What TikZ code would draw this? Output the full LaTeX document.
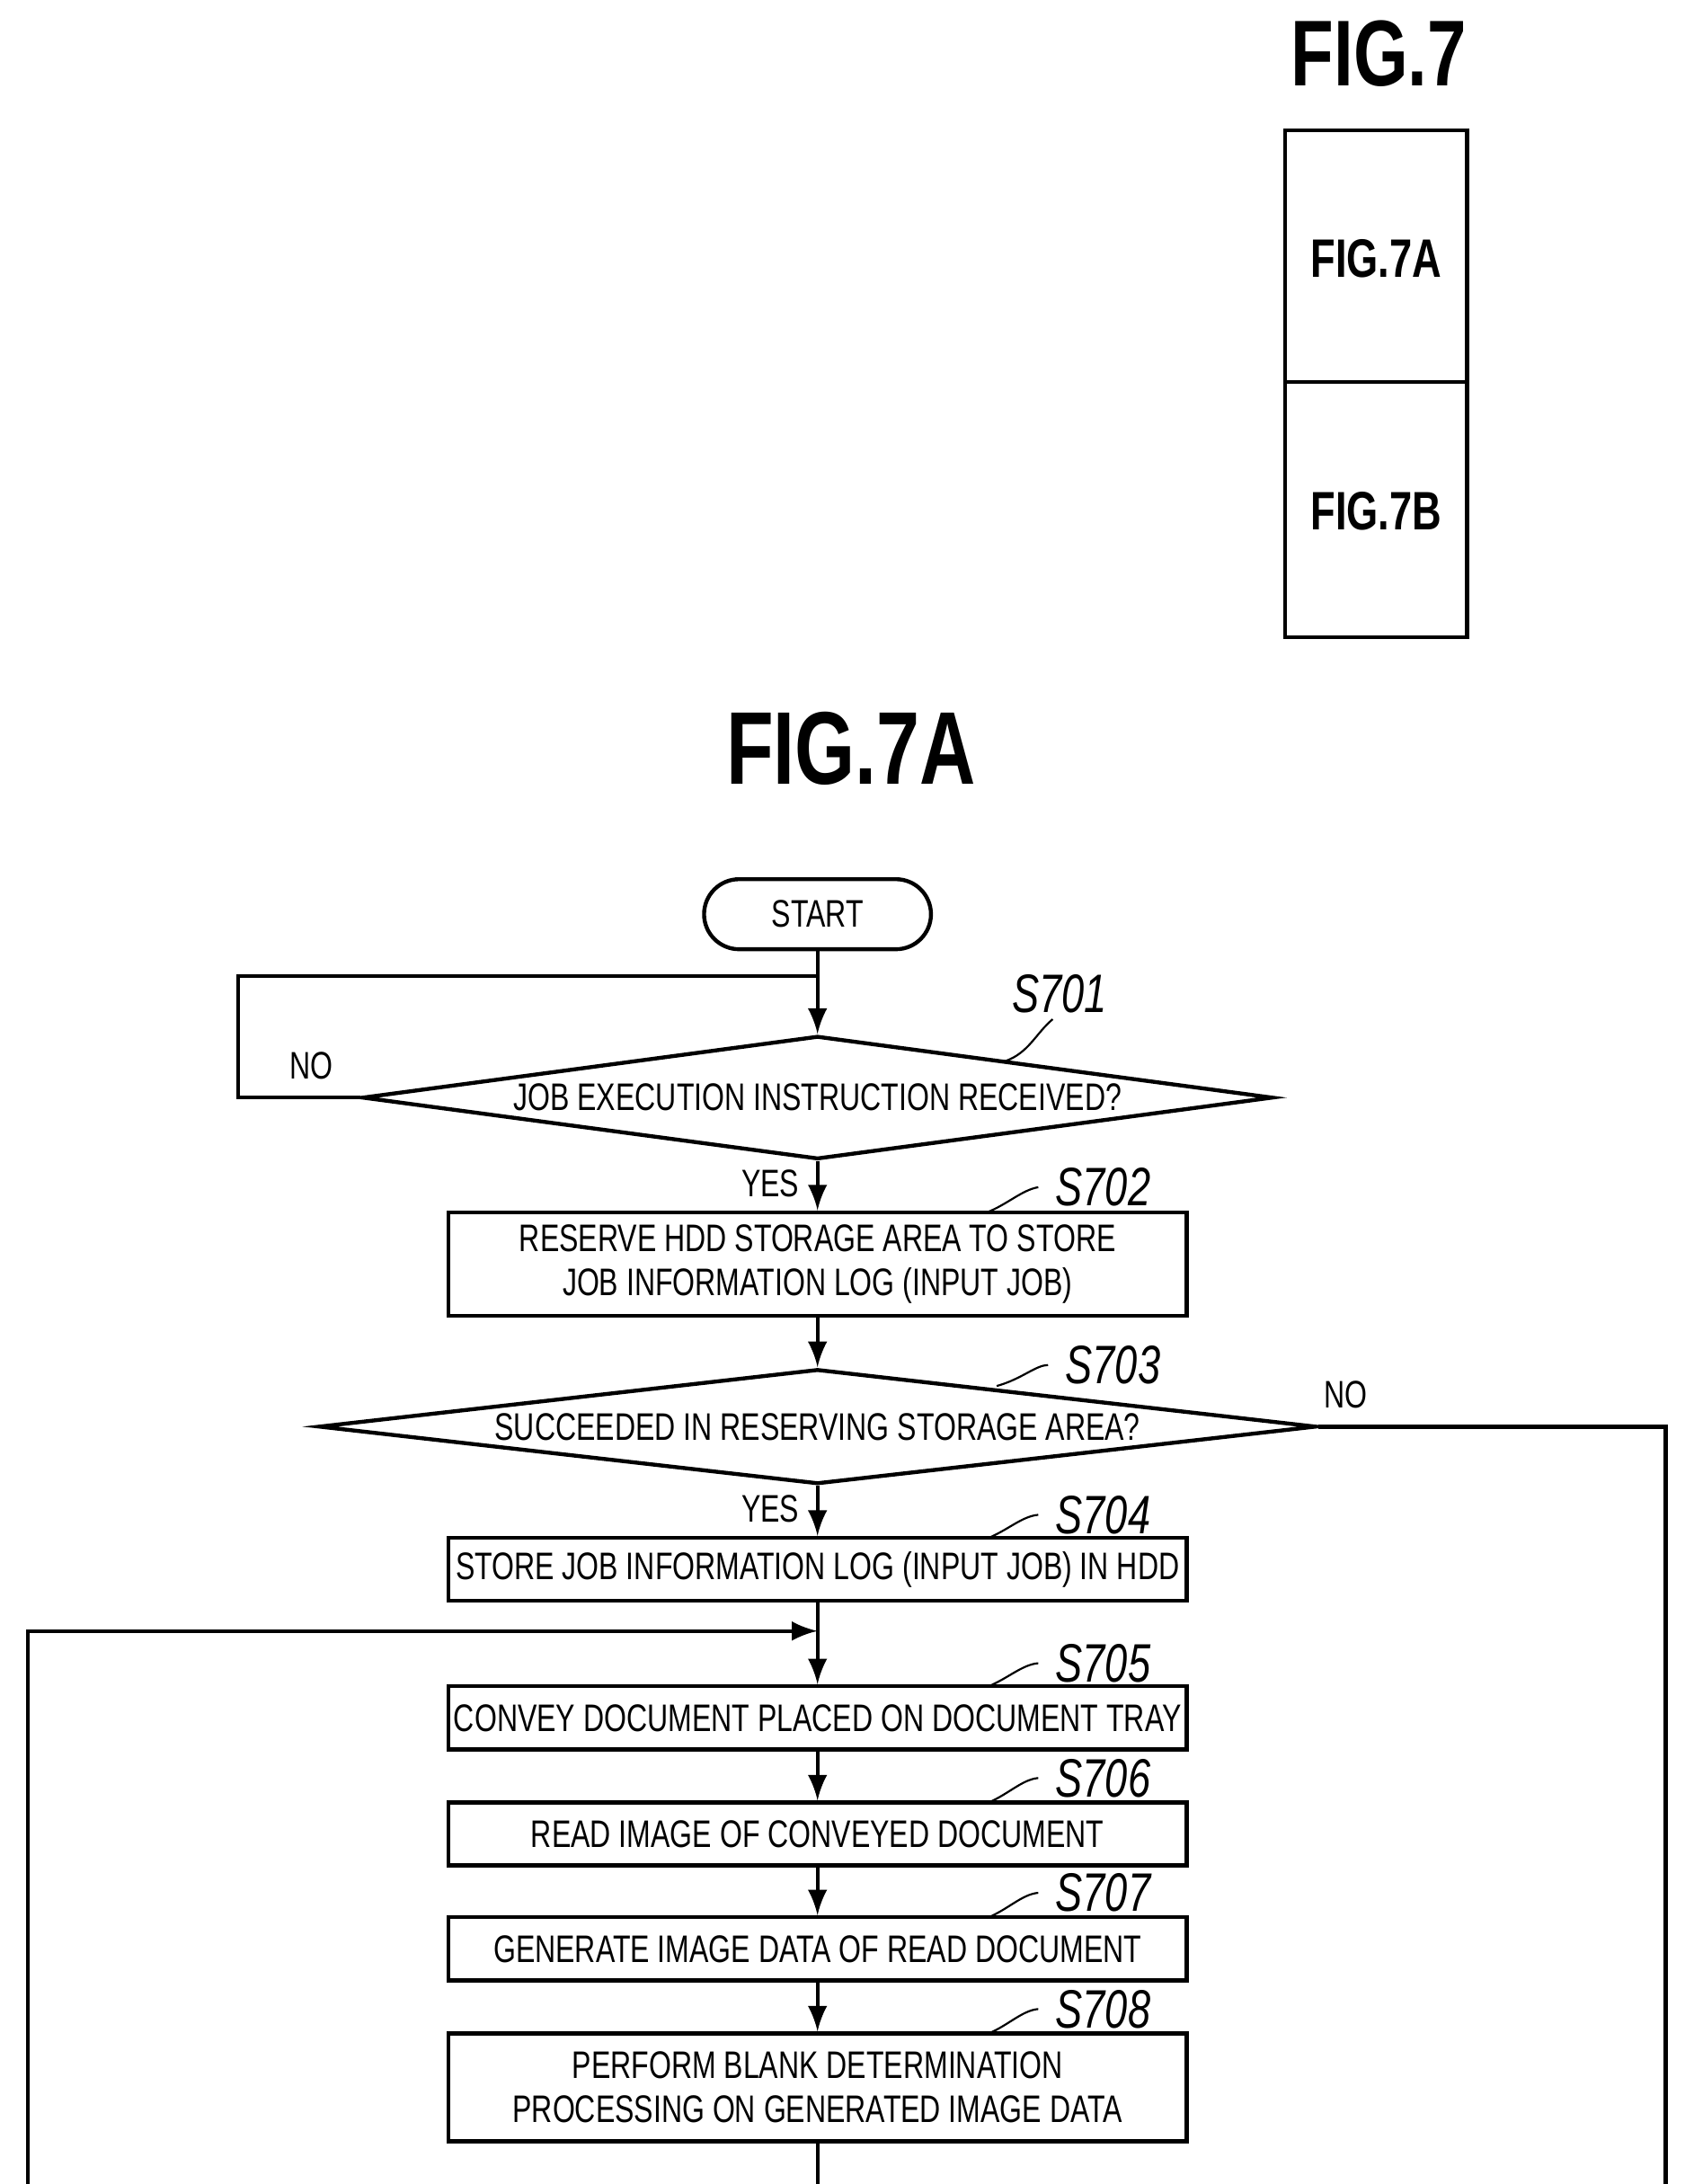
\documentclass[tikz,border=0pt]{standalone}
\usepackage{fontspec}
\setmainfont{Liberation Sans}[FakeStretch=0.75]
\usetikzlibrary{shapes,arrows,positioning}

\begin{document}
\begin{tikzpicture}[x=0.01cm, y=-0.01cm, every node/.style={font=\fontsize{7.8}{9}\selectfont, align=center},
  proc/.style={draw, rectangle, minimum width=5.27cm, inner sep=1pt},
  cond/.style={draw, diamond, inner sep=0pt},
  lbl/.style={font=\fontsize{11}{12}\selectfont\itshape},
  line/.style={draw, thick, -latex}]
\useasboundingbox (0,0) rectangle (1210,1560);
% Overview
\node[font=\fontsize{19}{20}\selectfont\bfseries] (fig) at (985,38) {FIG.7};
\draw[thick] (918,93) rectangle (1048,455);
\draw[thick] (918,273) -- (1048,273);
\node[font=\fontsize{11}{12}\selectfont\bfseries] (figa) at (983,185) {FIG.7A};
\node[font=\fontsize{11}{12}\selectfont\bfseries] (figb) at (983,365) {FIG.7B};
\node[font=\fontsize{21}{22}\selectfont\bfseries] (title) at (608,535) {FIG.7A};
% Flow
\node[draw, thick, rounded corners=0.25cm, minimum width=1.62cm, minimum height=0.5cm] (start) at (584,653) {START};
\node[cond, thick, minimum width=6.5cm, minimum height=0.88cm] (s701) at (584,784) {};
\node at (s701) {JOB EXECUTION INSTRUCTION RECEIVED?};
\node[proc, thick, minimum height=0.74cm] (s702) at (584,903) {RESERVE HDD STORAGE AREA TO STORE\\JOB INFORMATION LOG (INPUT JOB)};
\node[cond, thick, minimum width=7.12cm, minimum height=0.82cm] (s703) at (584,1019) {};
\node at (s703) {SUCCEEDED IN RESERVING STORAGE AREA?};
\node[proc, thick, minimum height=0.45cm] (s704) at (584,1121) {STORE JOB INFORMATION LOG (INPUT JOB) IN HDD};
\node[proc, thick, minimum height=0.45cm] (s705) at (584,1227) {CONVEY DOCUMENT PLACED ON DOCUMENT TRAY};
\node[proc, thick, minimum height=0.45cm] (s706) at (584,1310) {READ IMAGE OF CONVEYED DOCUMENT};
\node[proc, thick, minimum height=0.45cm] (s707) at (584,1392) {GENERATE IMAGE DATA OF READ DOCUMENT};
\node[proc, thick, minimum height=0.77cm] (s708) at (584,1491) {PERFORM BLANK DETERMINATION\\PROCESSING ON GENERATED IMAGE DATA};
\coordinate (j701) at (584,697);
\coordinate (j705) at (584,1165);
\coordinate (outb) at (584,1560);
\coordinate (outl) at (20,1560);
\coordinate (outr) at (1190,1560);
% Arrows
\draw[thick] (start) -- (j701);
\path[line] (j701) -- (s701);
\path[line] (s701) -- node[left, pos=0.45] {YES} (s702);
\path[line] (s702) -- (s703);
\path[line] (s703) -- node[left, pos=0.45] {YES} (s704);
\draw[thick] (s704) -- (j705);
\path[line] (j705) -- (s705);
\path[line] (s705) -- (s706);
\path[line] (s706) -- (s707);
\path[line] (s707) -- (s708);
\draw[thick] (s708) -- (outb);
\draw[thick] (s701.west) -- node[above, pos=0.4] {NO} (170,784) |- (j701);
\draw[thick] (s703.east) -- node[above, pos=0.08] {NO} (1190,1019) -- (outr);
\path[line] (outl) |- (j705);
% Step labels
\node[lbl] (l701) at (757,710) {S701};
\node[lbl] (l702) at (788,848) {S702};
\node[lbl] (l703) at (795,975) {S703};
\node[lbl] (l704) at (788,1082) {S704};
\node[lbl] (l705) at (788,1188) {S705};
\node[lbl] (l706) at (788,1270) {S706};
\node[lbl] (l707) at (788,1352) {S707};
\node[lbl] (l708) at (788,1435) {S708};
\draw (718,758) .. controls (735,752) and (740,738) .. (752,728);
\draw (705,866) .. controls (720,860) and (730,850) .. (l702.west);
\draw (712,990) .. controls (730,985) and (740,975) .. (l703.west);
\draw (705,1099) .. controls (720,1093) and (730,1083) .. (l704.west);
\draw (705,1205) .. controls (720,1199) and (730,1189) .. (l705.west);
\draw (705,1288) .. controls (720,1282) and (730,1271) .. (l706.west);
\draw (705,1370) .. controls (720,1364) and (730,1353) .. (l707.west);
\draw (705,1453) .. controls (720,1447) and (730,1436) .. (l708.west);
\end{tikzpicture}
\end{document}
